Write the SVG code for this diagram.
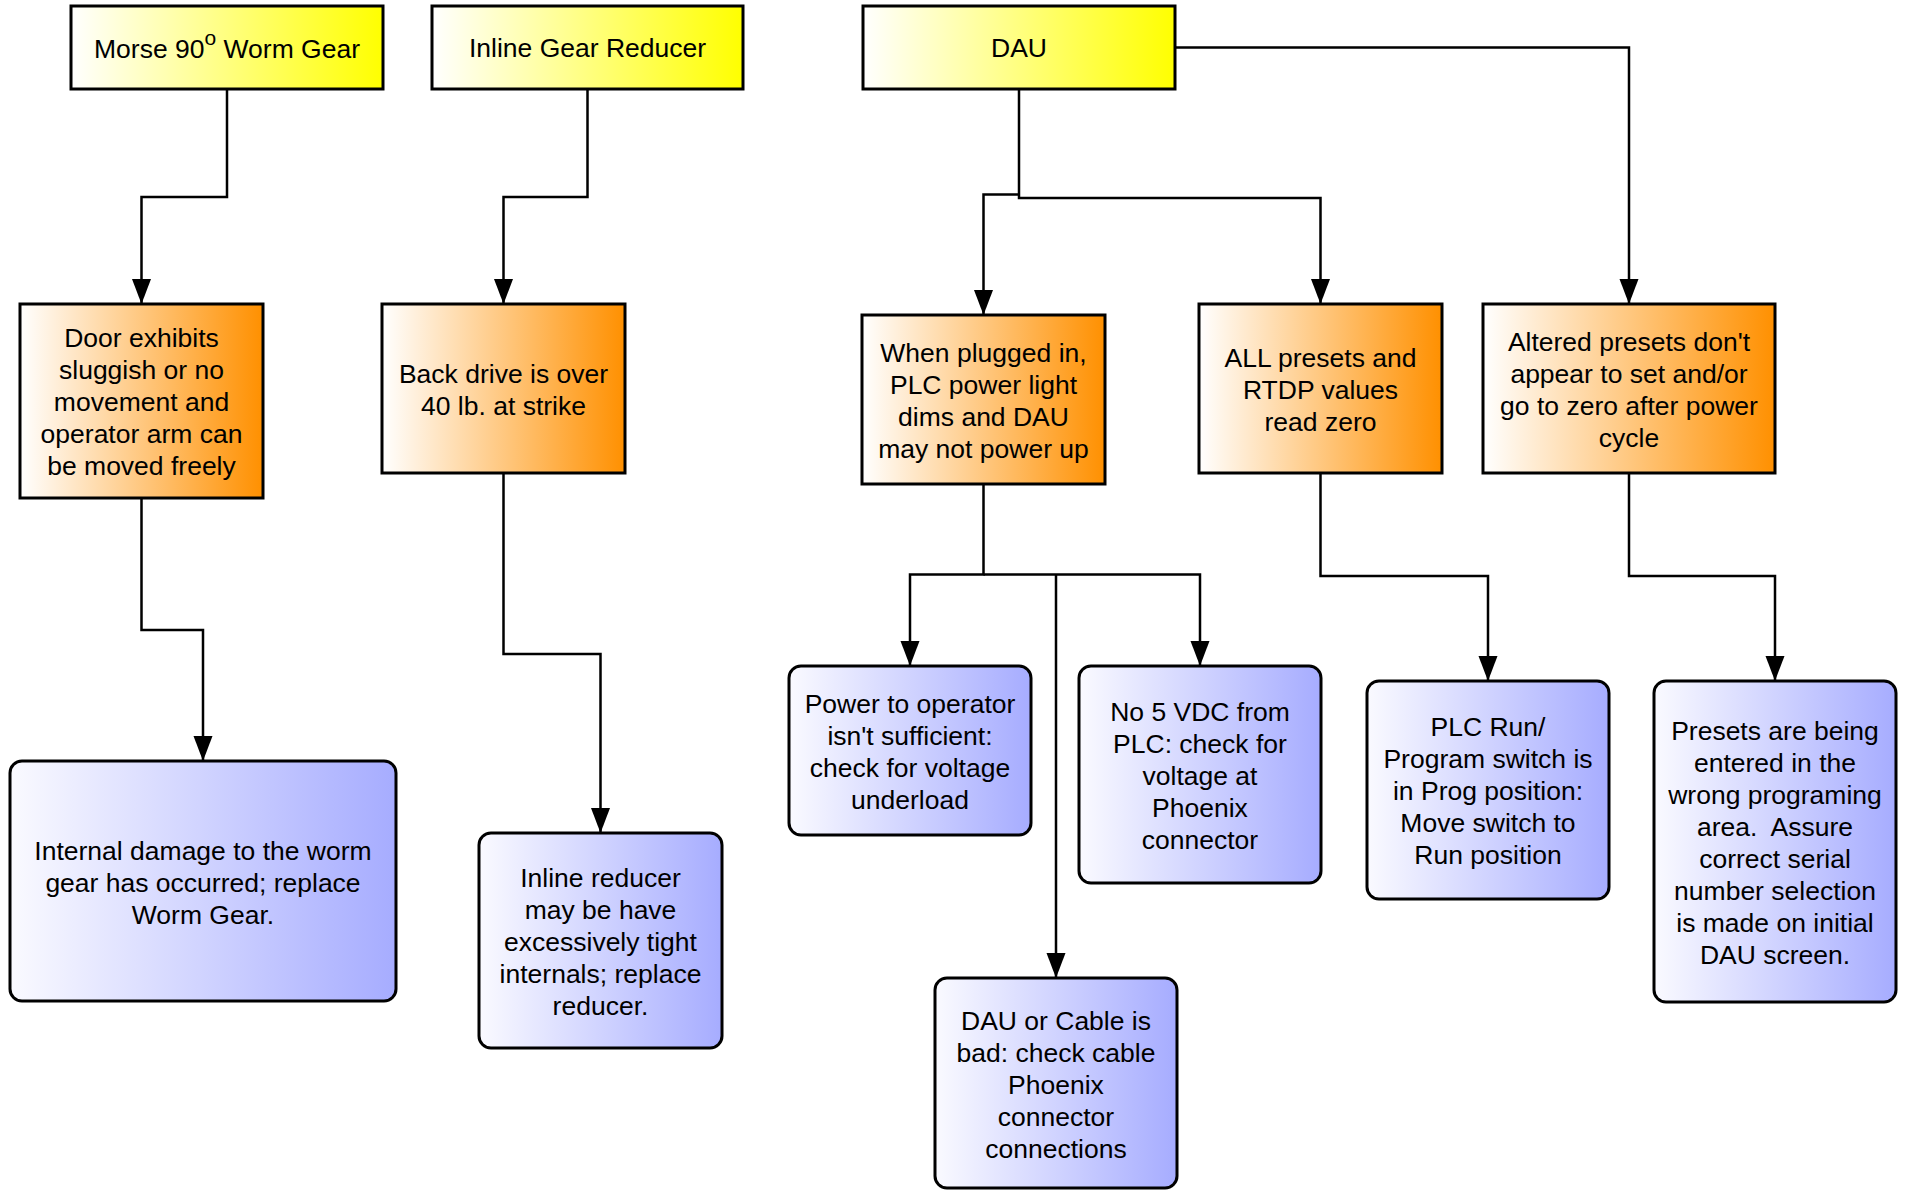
<svg xmlns="http://www.w3.org/2000/svg" width="1906" height="1190" viewBox="0 0 1906 1190">
<defs>
<linearGradient id="gY" x1="0" y1="0" x2="1" y2="0"><stop offset="0" stop-color="#FFFFFF"/><stop offset="1" stop-color="#FFFF00"/></linearGradient>
<linearGradient id="gO" x1="0" y1="0" x2="1" y2="0"><stop offset="0" stop-color="#FFFFFF"/><stop offset="1" stop-color="#FF9000"/></linearGradient>
<linearGradient id="gB" x1="0" y1="0" x2="1" y2="0"><stop offset="0" stop-color="#FAFAFF"/><stop offset="1" stop-color="#A6ACFF"/></linearGradient>
<marker id="arr" markerUnits="userSpaceOnUse" markerWidth="26" markerHeight="20" refX="25" refY="9.5" orient="auto"><path d="M0,0 L25,9.5 L0,19 z" fill="#000"/></marker>
</defs>
<style>
.y{fill:url(#gY);stroke:#000;stroke-width:3}
.o{fill:url(#gO);stroke:#000;stroke-width:3}
.b{fill:url(#gB);stroke:#000;stroke-width:3}
text{font-family:"Liberation Sans",Arial,Helvetica,sans-serif;font-size:26.5px;fill:#000;text-anchor:middle}
.c path{fill:none;stroke:#000;stroke-width:2.5}
</style>
<rect width="1906" height="1190" fill="#fff"/>
<g id="connectors" class="c">
<path d="M227,89 V197 H141.5 V304" marker-end="url(#arr)"/>
<path d="M587.5,89 V197 H503.5 V304" marker-end="url(#arr)"/>
<path d="M1019,89 V198 H1320.5 V304" marker-end="url(#arr)"/>
<path d="M1019,194.5 H983.5 V315" marker-end="url(#arr)"/>
<path d="M1175,47.5 H1629 V304" marker-end="url(#arr)"/>
<path d="M141.5,498 V630 H203 V761" marker-end="url(#arr)"/>
<path d="M503.5,473 V654 H600.5 V833" marker-end="url(#arr)"/>
<path d="M983.5,484 V574.5 H910 V666" marker-end="url(#arr)"/>
<path d="M983.5,574.5 H1200 V666" marker-end="url(#arr)"/>
<path d="M1056,574.5 V978" marker-end="url(#arr)"/>
<path d="M1320.5,473 V576 H1488 V681" marker-end="url(#arr)"/>
<path d="M1629,473 V576 H1775 V681" marker-end="url(#arr)"/>
</g>
<g id="morse">
<rect class="y" x="71" y="6" width="312" height="83"/>
<text x="227" y="58">Morse 90<tspan font-size="21" dy="-13">o</tspan><tspan dy="13"> Worm Gear</tspan></text>
</g>
<g id="inline-gear">
<rect class="y" x="432" y="6" width="311" height="83"/>
<text x="587.5" y="57">Inline Gear Reducer</text>
</g>
<g id="dau">
<rect class="y" x="863" y="6" width="312" height="83"/>
<text x="1019" y="57">DAU</text>
</g>
<g id="door">
<rect class="o" x="20" y="304" width="243" height="194"/>
<text x="141.5" y="347">Door exhibits</text>
<text x="141.5" y="379">sluggish or no</text>
<text x="141.5" y="411">movement and</text>
<text x="141.5" y="443">operator arm can</text>
<text x="141.5" y="475">be moved freely</text>
</g>
<g id="backdrive">
<rect class="o" x="382" y="304" width="243" height="169"/>
<text x="503.5" y="382.5">Back drive is over</text>
<text x="503.5" y="414.5">40 lb. at strike</text>
</g>
<g id="plugged">
<rect class="o" x="862" y="315" width="243" height="169"/>
<text x="983.5" y="361.5">When plugged in,</text>
<text x="983.5" y="393.5">PLC power light</text>
<text x="983.5" y="425.5">dims and DAU</text>
<text x="983.5" y="457.5">may not power up</text>
</g>
<g id="allpresets">
<rect class="o" x="1199" y="304" width="243" height="169"/>
<text x="1320.5" y="366.5">ALL presets and</text>
<text x="1320.5" y="398.5">RTDP values</text>
<text x="1320.5" y="430.5">read zero</text>
</g>
<g id="altered">
<rect class="o" x="1483" y="304" width="292" height="169"/>
<text x="1629" y="350.5">Altered presets don't</text>
<text x="1629" y="382.5">appear to set and/or</text>
<text x="1629" y="414.5">go to zero after power</text>
<text x="1629" y="446.5">cycle</text>
</g>
<g id="internal">
<rect class="b" x="10" y="761" width="386" height="240" rx="12"/>
<text x="203" y="860">Internal damage to the worm</text>
<text x="203" y="892">gear has occurred; replace</text>
<text x="203" y="924">Worm Gear.</text>
</g>
<g id="inline-reducer">
<rect class="b" x="479" y="833" width="243" height="215" rx="12"/>
<text x="600.5" y="886.5">Inline reducer</text>
<text x="600.5" y="918.5">may be have</text>
<text x="600.5" y="950.5">excessively tight</text>
<text x="600.5" y="982.5">internals; replace</text>
<text x="600.5" y="1014.5">reducer.</text>
</g>
<g id="power">
<rect class="b" x="789" y="666" width="242" height="169" rx="12"/>
<text x="910" y="712.5">Power to operator</text>
<text x="910" y="744.5">isn't sufficient:</text>
<text x="910" y="776.5">check for voltage</text>
<text x="910" y="808.5">underload</text>
</g>
<g id="no5vdc">
<rect class="b" x="1079" y="666" width="242" height="217" rx="12"/>
<text x="1200" y="720.5">No 5 VDC from</text>
<text x="1200" y="752.5">PLC: check for</text>
<text x="1200" y="784.5">voltage at</text>
<text x="1200" y="816.5">Phoenix</text>
<text x="1200" y="848.5">connector</text>
</g>
<g id="plcrun">
<rect class="b" x="1367" y="681" width="242" height="218" rx="12"/>
<text x="1488" y="736">PLC Run/</text>
<text x="1488" y="768">Program switch is</text>
<text x="1488" y="800">in Prog position:</text>
<text x="1488" y="832">Move switch to</text>
<text x="1488" y="864">Run position</text>
</g>
<g id="presets">
<rect class="b" x="1654" y="681" width="242" height="321" rx="12"/>
<text x="1775" y="739.5">Presets are being</text>
<text x="1775" y="771.5">entered in the</text>
<text x="1775" y="803.5">wrong programing</text>
<text x="1775" y="835.5" xml:space="preserve">area.  Assure</text>
<text x="1775" y="867.5">correct serial</text>
<text x="1775" y="899.5">number selection</text>
<text x="1775" y="931.5">is made on initial</text>
<text x="1775" y="963.5">DAU screen.</text>
</g>
<g id="daucable">
<rect class="b" x="935" y="978" width="242" height="210" rx="12"/>
<text x="1056" y="1030">DAU or Cable is</text>
<text x="1056" y="1062">bad: check cable</text>
<text x="1056" y="1094">Phoenix</text>
<text x="1056" y="1126">connector</text>
<text x="1056" y="1158">connections</text>
</g>
</svg>
